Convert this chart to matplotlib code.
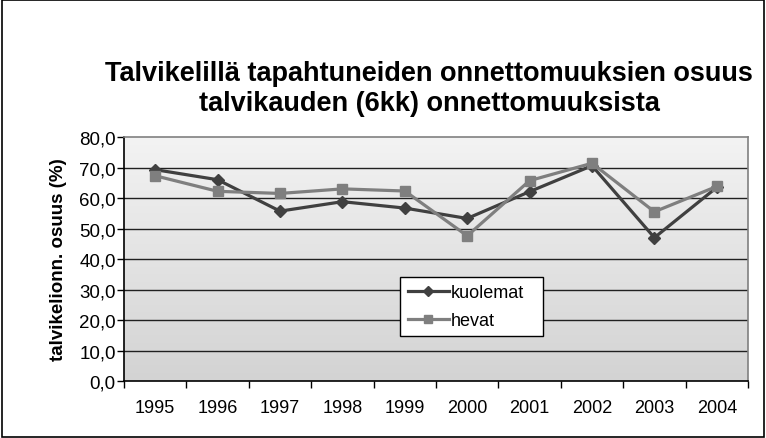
import matplotlib
matplotlib.use("Agg")
import matplotlib.pyplot as plt
import numpy as np
from matplotlib.patches import Rectangle
from matplotlib.colors import LinearSegmentedColormap

plt.rcParams['font.family'] = ['Liberation Sans', 'DejaVu Sans']

years = ['1995', '1996', '1997', '1998', '1999', '2000', '2001', '2002', '2003', '2004']
kuolemat = [69.3, 66.0, 55.7, 58.8, 56.7, 53.3, 62.1, 70.6, 47.0, 63.5]
hevat = [67.3, 62.2, 61.5, 63.0, 62.3, 47.6, 65.7, 71.4, 55.5, 63.8]
yticks = [0, 10, 20, 30, 40, 50, 60, 70, 80]

title = "Talvikelillä tapahtuneiden onnettomuuksien osuus\ntalvikauden (6kk) onnettomuuksista"
ylabel = "talvikelionn. osuus (%)"

fig = plt.figure(figsize=(7.66, 4.39), dpi=100)
fig.patch.set_facecolor('white')
fig.patches.append(Rectangle((0.002, 0.003), 0.995, 0.994, transform=fig.transFigure,
                             fill=False, edgecolor='black', linewidth=1.2))

ax = fig.add_axes([0.1619, 0.1298, 0.8146, 0.5558])
x = np.arange(1, len(years) + 1)

# gradient background
grad = np.linspace(0, 1, 256).reshape(-1, 1)
cmap = LinearSegmentedColormap.from_list('g', ['#f3f3f3', '#d3d3d3'])
ax.imshow(grad, aspect='auto', cmap=cmap, extent=[0, 1, 0, 1], transform=ax.transAxes, zorder=0)

ax.set_xlim(0.5, len(years) + 0.5)
ax.set_ylim(0, 80)

for v in yticks[1:-1]:
    ax.axhline(v, color='#202020', linewidth=1.0, zorder=1)

ax.plot(x, kuolemat, color='#404040', linewidth=2.3, marker='D', markersize=6.5,
        label='kuolemat', zorder=3)
ax.plot(x, hevat, color='#7f7f7f', linewidth=2.3, marker='s', markersize=6.5,
        label='hevat', zorder=3)

ax.set_yticks(yticks)
ax.set_yticklabels([f"{v:.1f}".replace('.', ',') for v in yticks], fontsize=13.5)
ax.set_xticks(x)
ax.set_xticklabels(years, fontsize=13)
ax.set_xticks(np.arange(0.5, len(years) + 1, 1), minor=True)
ax.tick_params(axis='x', which='major', length=0, pad=13)
ax.tick_params(axis='x', which='minor', length=5, width=1, direction='out', color='black')
ax.tick_params(axis='y', length=5, width=1, direction='out', color='black', pad=1)

for s in ['top', 'right']:
    ax.spines[s].set_color('#808080')
    ax.spines[s].set_linewidth(1.2)
for s in ['left', 'bottom']:
    ax.spines[s].set_color('black')
    ax.spines[s].set_linewidth(1.2)

ax.set_ylabel(ylabel, fontsize=13.5, fontweight='bold', labelpad=9)

leg = ax.legend(loc='lower left', bbox_to_anchor=(0.443, 0.184, 0.228, 0.267), mode='expand',
                fontsize=13, frameon=True, fancybox=False, edgecolor='black',
                handlelength=2.3, handletextpad=0.1, borderpad=0.4, labelspacing=0.6,
                borderaxespad=0, markerscale=0.85)
leg.get_frame().set_linewidth(1.0)
leg.get_frame().set_facecolor('white')
leg.get_frame().set_alpha(1)

fig.text(0.56, 0.797, title, ha='center', va='center', fontsize=19.5, fontweight='bold',
         linespacing=1.2)

fig.savefig('out.png', dpi=100)
